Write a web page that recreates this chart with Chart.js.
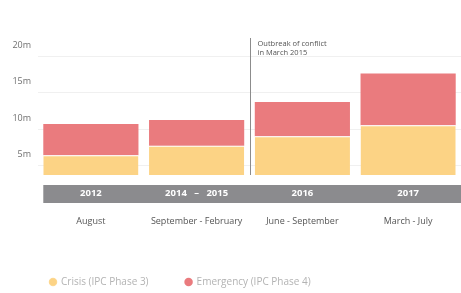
<!DOCTYPE html>
<html>
<head>
<meta charset="utf-8">
<script src="https://cdn.jsdelivr.net/npm/chart.js@4/dist/chart.umd.min.js"></script>
<style>
  html, body { margin: 0; padding: 0; background: #fff; }
  #wrap { width: 461px; height: 293px; }
</style>
</head>
<body>
<div id="wrap"><canvas id="chart"></canvas></div>
<script>
// Data (people in IPC phases, millions)
const years = ['2012', '2014   –   2015', '2016', '2017'];
const periods = ['August', 'September - February', 'June - September', 'March - July'];
const crisis = [6.4, 7.7, 9.0, 10.5];
const emergency = [4.3, 3.55, 4.7, 7.1];
const yTicks = [5, 10, 15, 20];
const conflictNote = ['Outbreak of conflict', 'in March 2015'];

const YELLOW = '#fcd385';
const RED = '#ea7b7e';
const BAND = '#8b8b8e';
const FONT = 'Open Sans';

// Grey year band, divider line and note
const decorations = {
    id: 'decorations',
    afterUpdate(chart) {
        const lg = chart.legend;
        lg.left = chart.chartArea.left + 12 - lg.options.labels.padding;
        lg.top += 4;
    },
    beforeDraw(chart) {
        const { ctx, chartArea } = chart;
        const bar = chart.getDatasetMeta(0).data[0];
        const left = bar.x - bar.width / 2;
        ctx.save();
        ctx.fillStyle = BAND;
        ctx.fillRect(left, chartArea.bottom + 10, chart.width - left, 18);
        ctx.restore();
    },
    afterDatasetsDraw(chart) {
        const { ctx, chartArea, scales: { x } } = chart;
        const lx = Math.round((x.getPixelForValue(1) + x.getPixelForValue(2)) / 2) + 0.5;
        ctx.save();
        ctx.strokeStyle = '#8c8c8c';
        ctx.lineWidth = 1;
        ctx.beginPath();
        ctx.moveTo(lx, chartArea.top - 18);
        ctx.lineTo(lx, chartArea.bottom);
        ctx.stroke();
        ctx.fillStyle = '#555';
        ctx.font = '7.5px "' + FONT + '"';
        ctx.textBaseline = 'middle';
        conflictNote.forEach((line, i) => {
            ctx.fillText(line, lx + 7, chartArea.top - 12 + i * 9);
        });
        ctx.restore();
    }
};

new Chart(document.getElementById('chart'), {
    type: 'bar',
    data: {
        labels: years,
        datasets: [
            {
                label: 'Crisis (IPC Phase 3)',
                data: crisis,
                backgroundColor: YELLOW,
                borderColor: '#fff',
                borderWidth: { top: 1, left: 0, right: 0, bottom: 0 },
                borderSkipped: false
            },
            {
                label: 'Emergency (IPC Phase 4)',
                data: emergency,
                backgroundColor: RED,
                borderWidth: 0
            }
        ]
    },
    options: {
        responsive: true,
        maintainAspectRatio: false,
        animation: false,
        barPercentage: 0.9,
        categoryPercentage: 1.0,
        layout: { padding: { top: 56, left: 0, right: 0, bottom: 0 } },
        scales: {
            x: {
                stacked: true,
                grid: { display: false, drawTicks: false },
                border: { display: false },
                ticks: {
                    color: '#fff',
                    font: { family: FONT, size: 9.5, weight: 'bold' },
                    padding: 13,
                    maxRotation: 0,
                    autoSkip: false
                },
                afterFit: s => { s.height = 28; }
            },
            x2: {
                type: 'category',
                labels: periods,
                position: 'bottom',
                offset: true,
                grid: { display: false, drawTicks: false },
                border: { display: false },
                ticks: {
                    color: '#555',
                    font: { family: FONT, size: 9 },
                    padding: 13,
                    maxRotation: 0,
                    autoSkip: false
                },
                afterFit: s => { s.height = 33; }
            },
            y: {
                stacked: true,
                min: 3.7,
                max: 20,
                border: { display: false },
                grid: { color: '#f0f0f0', drawTicks: false },
                afterBuildTicks: s => { s.ticks = yTicks.map(v => ({ value: v })); },
                afterFit: s => { s.width = 38; },
                ticks: {
                    color: '#707070',
                    font: { family: FONT, size: 9 },
                    padding: 7,
                    labelOffset: -11,
                    callback: v => v + 'm'
                }
            }
        },
        plugins: {
            legend: {
                position: 'bottom',
                align: 'start',
                labels: {
                    usePointStyle: true,
                    pointStyle: 'circle',
                    boxWidth: 6,
                    boxHeight: 6,
                    padding: 37,
                    color: '#b3b3b3',
                    font: { family: FONT, size: 10 }
                }
            },
            tooltip: { enabled: false }
        }
    },
    plugins: [decorations]
});
</script>
</body>
</html>
